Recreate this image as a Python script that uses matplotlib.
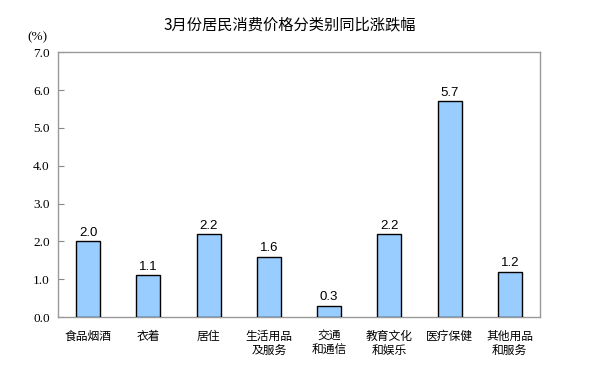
import matplotlib
matplotlib.use("Agg")
import matplotlib.pyplot as plt

plt.rcParams['font.family'] = ['Noto Sans CJK SC', 'DejaVu Sans']

categories = ['食品烟酒', '衣着', '居住', '生活用品\n及服务', '交通\n和通信',
              '教育文化\n和娱乐', '医疗保健', '其他用品\n和服务']
values = [2.0, 1.1, 2.2, 1.6, 0.3, 2.2, 5.7, 1.2]
yticks = [0.0, 1.0, 2.0, 3.0, 4.0, 5.0, 6.0, 7.0]

fig = plt.figure(figsize=(5.92, 3.70), dpi=100)
ax = fig.add_axes([0.098, 0.143, 0.814, 0.716])

x = range(len(categories))
ax.bar(x, values, width=0.4, color='#99CCFF', edgecolor='black', linewidth=1.0, zorder=3)
for xi, v in zip(x, values):
    ax.text(xi, v + 0.06, f'{v:.1f}', ha='center', va='bottom', fontsize=9.5,
            family=['Liberation Sans', 'DejaVu Sans'])

ax.set_xlim(-0.5, len(categories) - 0.5)
ax.set_ylim(0, 7)
ax.set_yticks(yticks)
ax.set_yticklabels([f'{t:.1f}' for t in yticks], family=['Liberation Serif'], fontsize=9.5)
ax.set_xticks(list(x))
ax.set_xticklabels(categories, fontsize=8.5, linespacing=1.15, va='top')
ax.tick_params(axis='x', length=0, pad=9)
ax.tick_params(axis='y', direction='in', length=4, color='#888888', pad=6)
for s in ax.spines.values():
    s.set_color('#999999')
    s.set_linewidth(1.0)

fig.text(0.063, 0.90, '(%)', fontsize=9.5, ha='center', va='center', family=['Liberation Serif'])
fig.text(0.49, 0.932, '3月份居民消费价格分类别同比涨跌幅', fontsize=11, ha='center', va='center')

fig.savefig('out.png', dpi=100)
